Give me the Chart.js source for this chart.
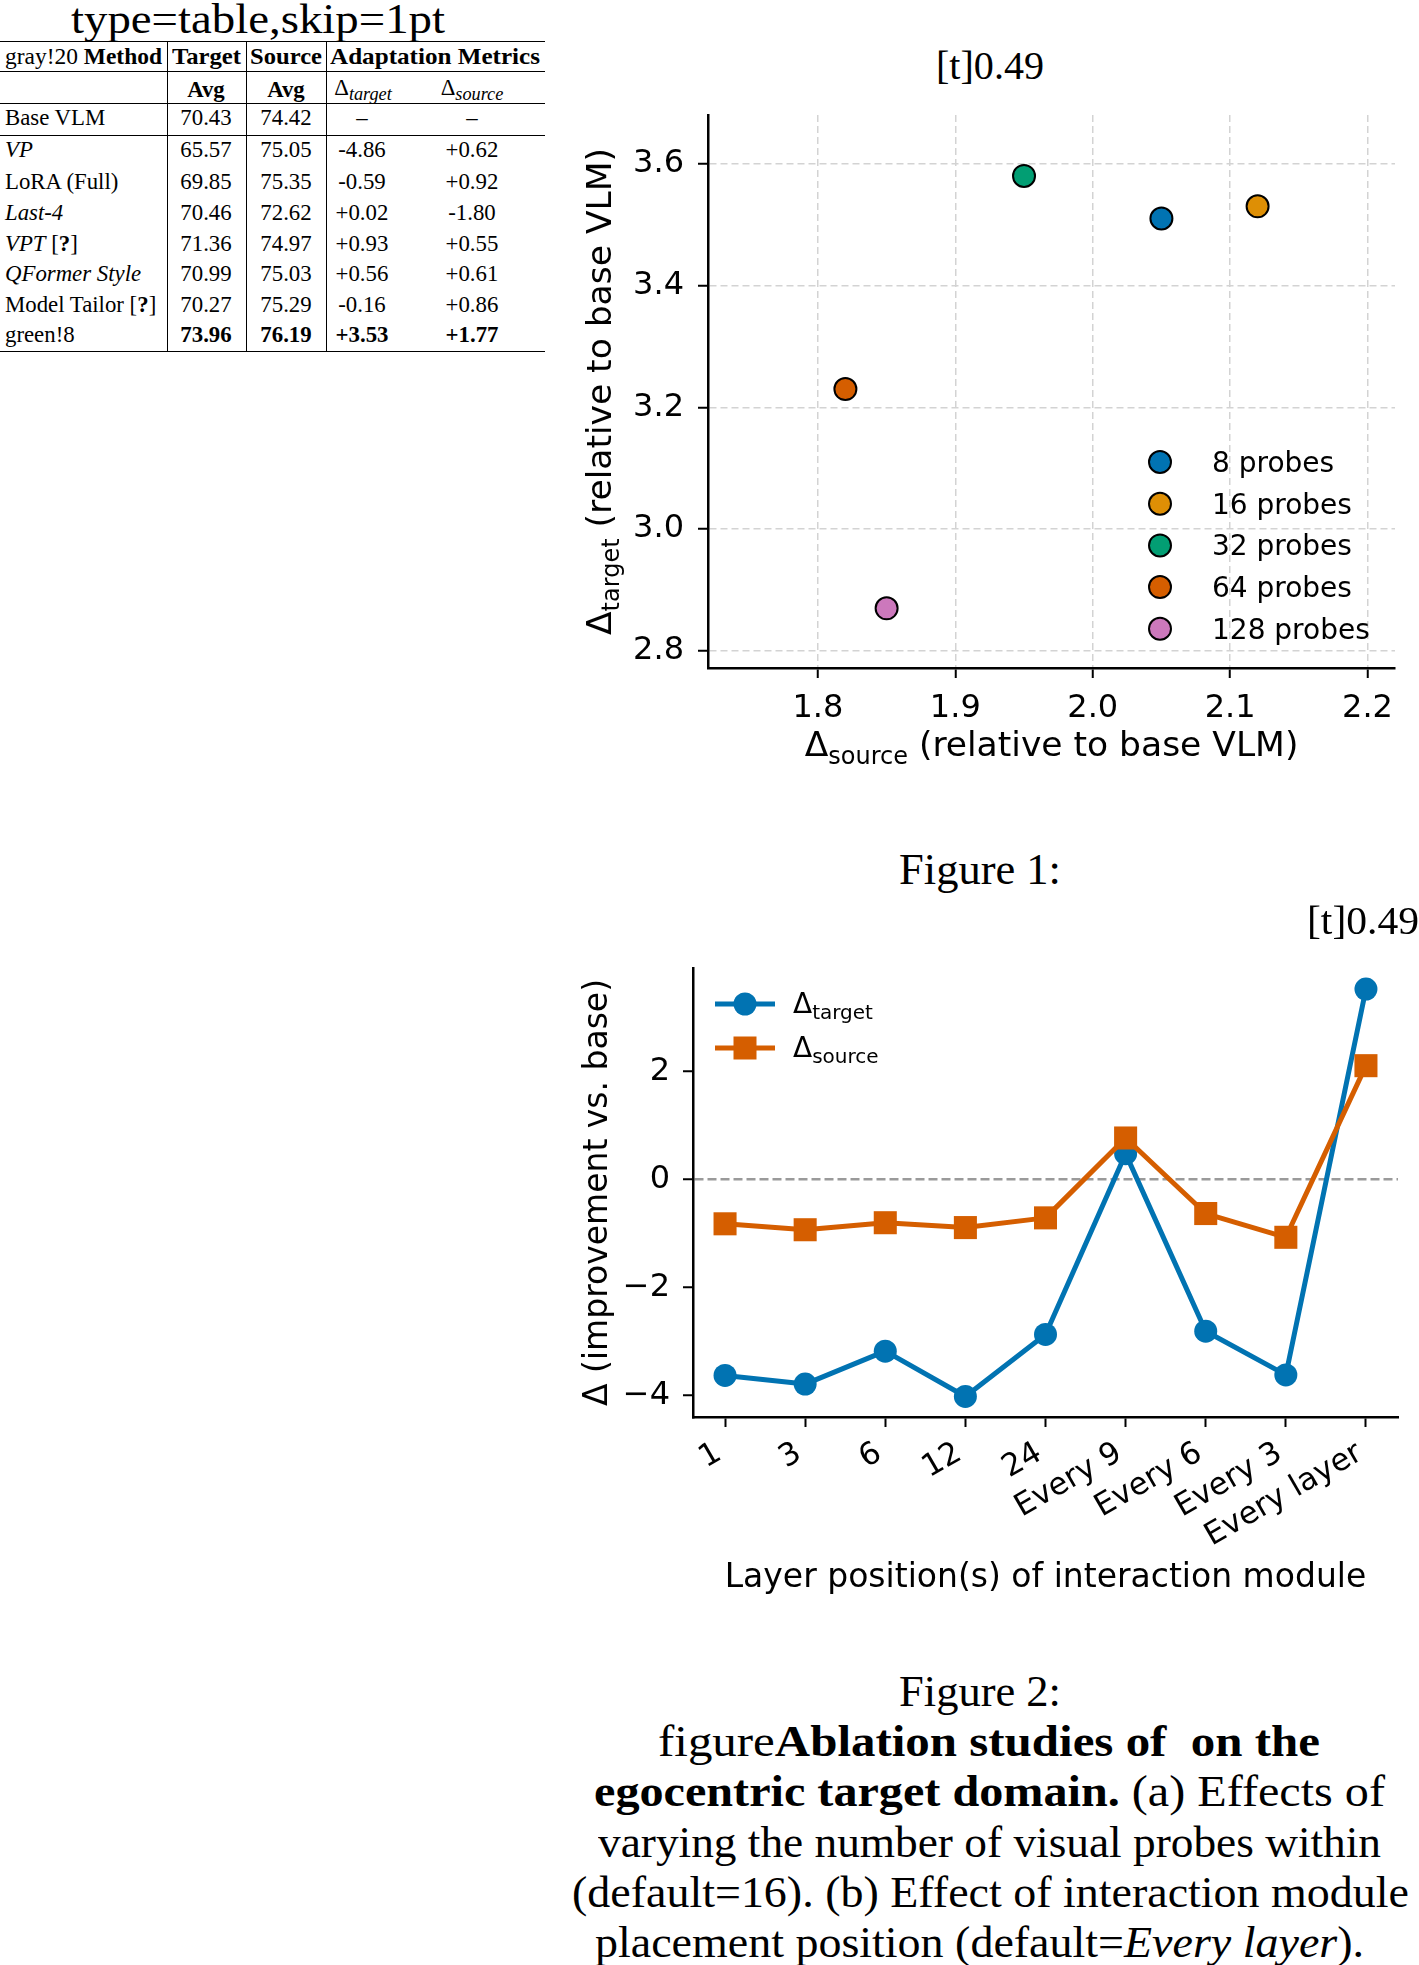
<!DOCTYPE html>
<html>
<head>
<meta charset="utf-8">
<title>Ablation figure</title>
<script src="https://cdn.jsdelivr.net/npm/chart.js@4.4.1/dist/chart.umd.min.js"></script>
<style>
  html, body { margin: 0; padding: 0; background: #fff; }
  body { position: relative; width: 1419px; height: 1965px; overflow: hidden;
         font-family: "Liberation Serif", "Times New Roman", serif; color: #000; }
  .txt { position: absolute; white-space: pre; transform-origin: 0 50%; }
  .rule { position: absolute; background: #000; }
  .chartbox { position: absolute; }
  .chartbox canvas { display: block; }
  sub { font-size: 80%; vertical-align: -0.3em; line-height: 0; }
</style>
</head>
<body>
<div class="chartbox" style="left:560px;top:90px;"><canvas id="probeChart" width="859" height="720"></canvas></div>
<div class="chartbox" style="left:540px;top:940px;"><canvas id="layerChart" width="879" height="700"></canvas></div>
<script>
// --- figure 1: number of visual probes ---
const probeLabels = ['8 probes', '16 probes', '32 probes', '64 probes', '128 probes'];
const probeSource = [2.05, 2.12, 1.95, 1.82, 1.85];
const probeTarget = [3.51, 3.53, 3.58, 3.23, 2.87];
const probeColors = ['#0173b2', '#de8f05', '#029e73', '#d55e00', '#cc78bc'];
const sourceTicks = [1.8, 1.9, 2.0, 2.1, 2.2];
const targetTicks = [2.8, 3.0, 3.2, 3.4, 3.6];

// --- figure 2: placement of the interaction module ---
const layerLabels = ['1', '3', '6', '12', '24', 'Every 9', 'Every 6', 'Every 3', 'Every layer'];
const layerTarget = [-3.63, -3.79, -3.18, -4.02, -2.87, 0.48, -2.81, -3.62, 3.53];
const layerSource = [-0.82, -0.93, -0.80, -0.89, -0.71, 0.77, -0.63, -1.07, 2.11];
const deltaTicks = [-4, -2, 0, 2];

const BLUE = '#0173b2';
const VERMILION = '#d55e00';

Chart.defaults.font.family = 'DejaVu Sans';
Chart.defaults.color = '#000';

// text with subscripts, drawn centred on (x, y) baseline; rotated for y titles
function richText(ctx, parts, x, y, rotate) {
    ctx.save();
    ctx.translate(x, y);
    if (rotate) ctx.rotate(-Math.PI / 2);
    ctx.fillStyle = '#000';
    ctx.textBaseline = 'alphabetic';
    ctx.textAlign = 'left';
    const widths = parts.map(([t, s]) => { ctx.font = s + 'px "DejaVu Sans"'; return ctx.measureText(t).width; });
    let cx = -widths.reduce((a, b) => a + b, 0) / 2;
    parts.forEach(([t, s, dy], i) => {
        ctx.font = s + 'px "DejaVu Sans"';
        ctx.fillText(t, cx, dy || 0);
        cx += widths[i];
    });
    ctx.restore();
}

function leftText(ctx, parts, x, y) {
    ctx.save();
    ctx.fillStyle = '#000';
    ctx.textBaseline = 'alphabetic';
    ctx.textAlign = 'left';
    let cx = x;
    parts.forEach(([t, s, dy]) => {
        ctx.font = s + 'px "DejaVu Sans"';
        ctx.fillText(t, cx, y + (dy || 0));
        cx += ctx.measureText(t).width;
    });
    ctx.restore();
}

// keep the plot box exactly where the layout padding puts it
function noScalePadding(s) {
    s.paddingTop = 0;
    s.paddingBottom = 0;
    s.paddingLeft = 0;
    s.paddingRight = 0;
}

// ---------- scatter ----------
const probeDecor = {
    id: 'probeDecor',
    afterDraw(chart) {
        const {ctx, chartArea: a} = chart;
        richText(ctx, [['Δ', 34.5], ['source', 24, 8], [' (relative to base VLM)', 34.5]], (a.left + a.right) / 2, 666);
        richText(ctx, [['Δ', 34.5], ['target', 24, 8], [' (relative to base VLM)', 34.5]], 51, (a.top + a.bottom) / 2, true);
        // legend
        probeLabels.forEach((label, i) => {
            const y = 372 + i * 41.7;
            ctx.save();
            ctx.beginPath();
            ctx.arc(600, y, 11, 0, Math.PI * 2);
            ctx.fillStyle = probeColors[i];
            ctx.fill();
            ctx.lineWidth = 2;
            ctx.strokeStyle = '#000';
            ctx.stroke();
            ctx.restore();
            leftText(ctx, [[label, 28]], 652, y + 10);
        });
    }
};

new Chart(document.getElementById('probeChart'), {
    type: 'scatter',
    data: {
        datasets: probeLabels.map((label, i) => ({
            label: label,
            data: [{x: probeSource[i], y: probeTarget[i]}],
            backgroundColor: probeColors[i],
            pointBackgroundColor: probeColors[i],
            pointBorderColor: '#000',
            pointBorderWidth: 2,
            pointRadius: 11,
            pointHoverRadius: 11
        }))
    },
    options: {
        responsive: false,
        animation: false,
        events: [],
        layout: {padding: {top: 25, right: 24, left: 0, bottom: 0}},
        plugins: {legend: {display: false}, tooltip: {enabled: false}},
        scales: {
            x: {
                type: 'linear', min: 1.72, max: 2.22,
                afterBuildTicks: s => { s.ticks = sourceTicks.map(v => ({value: v})); },
                afterFit: s => { s.height = 142; noScalePadding(s); },
                ticks: {font: {size: 32}, padding: 11, callback: v => v.toFixed(1)},
                grid: {color: '#d3d3d3', lineWidth: 1.5, tickColor: '#000', tickWidth: 2, tickLength: 10},
                border: {color: '#000', width: 2.5, dash: [7, 4]}
            },
            y: {
                type: 'linear', min: 2.772, max: 3.68,
                afterBuildTicks: s => { s.ticks = targetTicks.map(v => ({value: v})); },
                afterFit: s => { s.width = 148; noScalePadding(s); },
                ticks: {font: {size: 32}, padding: 14, callback: v => v.toFixed(1)},
                grid: {color: '#d3d3d3', lineWidth: 1.5, tickColor: '#000', tickWidth: 2, tickLength: 10},
                border: {color: '#000', width: 2.5, dash: [7, 4]}
            }
        }
    },
    plugins: [probeDecor]
});

// ---------- line ----------
const layerDecor = {
    id: 'layerDecor',
    afterDraw(chart) {
        const {ctx, chartArea: a} = chart;
        richText(ctx, [['Layer position(s) of interaction module', 33]], (a.left + a.right) / 2, 647);
        richText(ctx, [['Δ (improvement vs. base)', 33]], 67, (a.top + a.bottom) / 2, true);
        // legend
        const rows = [
            {y: 64, color: BLUE, shape: 'circle', sub: 'target'},
            {y: 108, color: VERMILION, shape: 'rect', sub: 'source'}
        ];
        rows.forEach(r => {
            ctx.save();
            ctx.strokeStyle = r.color;
            ctx.fillStyle = r.color;
            ctx.lineWidth = 5;
            ctx.beginPath();
            ctx.moveTo(175, r.y);
            ctx.lineTo(235, r.y);
            ctx.stroke();
            if (r.shape === 'circle') {
                ctx.beginPath();
                ctx.arc(205, r.y, 11.5, 0, Math.PI * 2);
                ctx.fill();
            } else {
                ctx.fillRect(205 - 11.5, r.y - 11.5, 23, 23);
            }
            ctx.restore();
            leftText(ctx, [['Δ', 28], [r.sub, 20, 6]], 253, r.y + 9);
        });
    }
};

new Chart(document.getElementById('layerChart'), {
    type: 'line',
    data: {
        datasets: [
            {
                label: 'target',
                data: layerTarget.map((y, i) => ({x: i, y: y})),
                borderColor: BLUE, backgroundColor: BLUE,
                pointBackgroundColor: BLUE, pointBorderColor: BLUE,
                borderWidth: 5, pointRadius: 11.5, pointBorderWidth: 0,
                pointStyle: 'circle', borderJoinStyle: 'round', order: 1
            },
            {
                label: 'source',
                data: layerSource.map((y, i) => ({x: i, y: y})),
                borderColor: VERMILION, backgroundColor: VERMILION,
                pointBackgroundColor: VERMILION, pointBorderColor: VERMILION,
                borderWidth: 5, pointRadius: 16.3, pointBorderWidth: 0,
                pointStyle: 'rect', borderJoinStyle: 'round', order: 0
            }
        ]
    },
    options: {
        responsive: false,
        animation: false,
        events: [],
        layout: {padding: {top: 28, right: 21, left: 0, bottom: 0}},
        plugins: {legend: {display: false}, tooltip: {enabled: false}},
        scales: {
            x: {
                type: 'linear', min: -0.4, max: 8.4,
                afterBuildTicks: s => { s.ticks = layerLabels.map((_, i) => ({value: i})); },
                afterFit: s => { s.height = 223; noScalePadding(s); },
                ticks: {font: {size: 31}, padding: 8, minRotation: 30, maxRotation: 30, autoSkip: false,
                        labelOffset: -6, callback: v => layerLabels[v]},
                grid: {drawOnChartArea: false, color: '#000', tickColor: '#000', tickWidth: 2, tickLength: 10},
                border: {color: '#000', width: 2.5}
            },
            y: {
                type: 'linear', min: -4.4, max: 3.92,
                afterBuildTicks: s => { s.ticks = deltaTicks.map(v => ({value: v})); },
                afterFit: s => { s.width = 153; noScalePadding(s); },
                ticks: {font: {size: 32}, padding: 13, callback: v => (v < 0 ? '\u2212' + Math.abs(v) : String(v))},
                grid: {
                    color: c => (c.tick && c.tick.value === 0 ? '#9a9a9a' : 'rgba(0,0,0,0)'),
                    lineWidth: 2.5, tickColor: '#000', tickWidth: 2, tickLength: 10
                },
                border: {color: '#000', width: 2.5, dash: [9, 4]}
            }
        }
    },
    plugins: [layerDecor]
});

// ---------- page text (table, captions) ----------
function put(html, x, cy, size, opts) {
    opts = opts || {};
    const el = document.createElement('div');
    el.className = 'txt';
    el.innerHTML = html;
    el.style.fontSize = size + 'px';
    el.style.lineHeight = size + 'px';
    document.body.appendChild(el);
    const w = el.getBoundingClientRect().width;
    const target = opts.width || w;
    if (opts.width) el.style.transform = 'scaleX(' + (target / w) + ')';
    let left = x - target / 2;
    if (opts.align === 'left') left = x;
    if (opts.align === 'right') left = x - target;
    el.style.left = left + 'px';
    el.style.top = (cy - size / 2) + 'px';
}

function rule(x, y, w, h) {
    const el = document.createElement('div');
    el.className = 'rule';
    el.style.left = x + 'px';
    el.style.top = y + 'px';
    el.style.width = w + 'px';
    el.style.height = h + 'px';
    document.body.appendChild(el);
}

put('type=table,skip=1pt', 258, 19, 42, {width: 374});

rule(0, 40.5, 545, 1.6);
rule(0, 71, 545, 1);
rule(0, 103, 545, 1);
rule(0, 134.5, 545, 1);
rule(0, 350.5, 545, 1.6);
[167, 246, 326].forEach(x => rule(x, 41, 1, 310));

const T = 22.8;
put('gray!20 <b>Method</b>', 5, 57, T, {align: 'left', width: 157});
put('<b>Target</b>', 206, 57, T, {width: 69});
put('<b>Source</b>', 286, 57, T, {width: 72});
put('<b>Adaptation Metrics</b>', 330, 57, T, {align: 'left', width: 210});
put('<b>Avg</b>', 206, 90, T);
put('<b>Avg</b>', 286, 90, T);
put('Δ<sub><i>target</i></sub>', 363, 88, T);
put('Δ<sub><i>source</i></sub>', 472, 88, T);

const tableRows = [
    ['Base VLM', '70.43', '74.42', '–', '–'],
    ['<i>VP</i>', '65.57', '75.05', '-4.86', '+0.62'],
    ['LoRA (Full)', '69.85', '75.35', '-0.59', '+0.92'],
    ['<i>Last-4</i>', '70.46', '72.62', '+0.02', '-1.80'],
    ['<i>VPT</i> [<b>?</b>]', '71.36', '74.97', '+0.93', '+0.55'],
    ['<i>QFormer Style</i>', '70.99', '75.03', '+0.56', '+0.61'],
    ['Model Tailor [<b>?</b>]', '70.27', '75.29', '-0.16', '+0.86'],
    ['green!8', '<b>73.96</b>', '<b>76.19</b>', '<b>+3.53</b>', '<b>+1.77</b>']
];
const rowY = [118.5, 150, 182, 213, 244, 274, 305, 335];
const colX = [206, 286, 362, 472];
tableRows.forEach((row, r) => {
    put(row[0], 5, rowY[r], T, {align: 'left'});
    row.slice(1).forEach((cell, c) => put(cell, colX[c], rowY[r], T));
});

put('[t]0.49', 990, 66, 40, {width: 108});
put('Figure 1:', 979.5, 870, 44, {width: 162});
put('[t]0.49', 1419, 921, 40, {align: 'right', width: 112});
put('Figure 2:', 979.5, 1692, 44, {width: 162});

put('figure<b>Ablation studies of &nbsp;on the</b>', 989, 1742, 44, {width: 662});
put('<b>egocentric target domain.</b> (a) Effects of', 989.5, 1792, 44, {width: 791});
put('varying the number of visual probes within', 989.5, 1843, 44, {width: 783});
put('(default=16). (b) Effect of interaction module', 990.5, 1893, 44, {width: 837});
put('placement position (default=<i>Every layer</i>).', 979.5, 1943, 44, {width: 769});
</script>
</body>
</html>
